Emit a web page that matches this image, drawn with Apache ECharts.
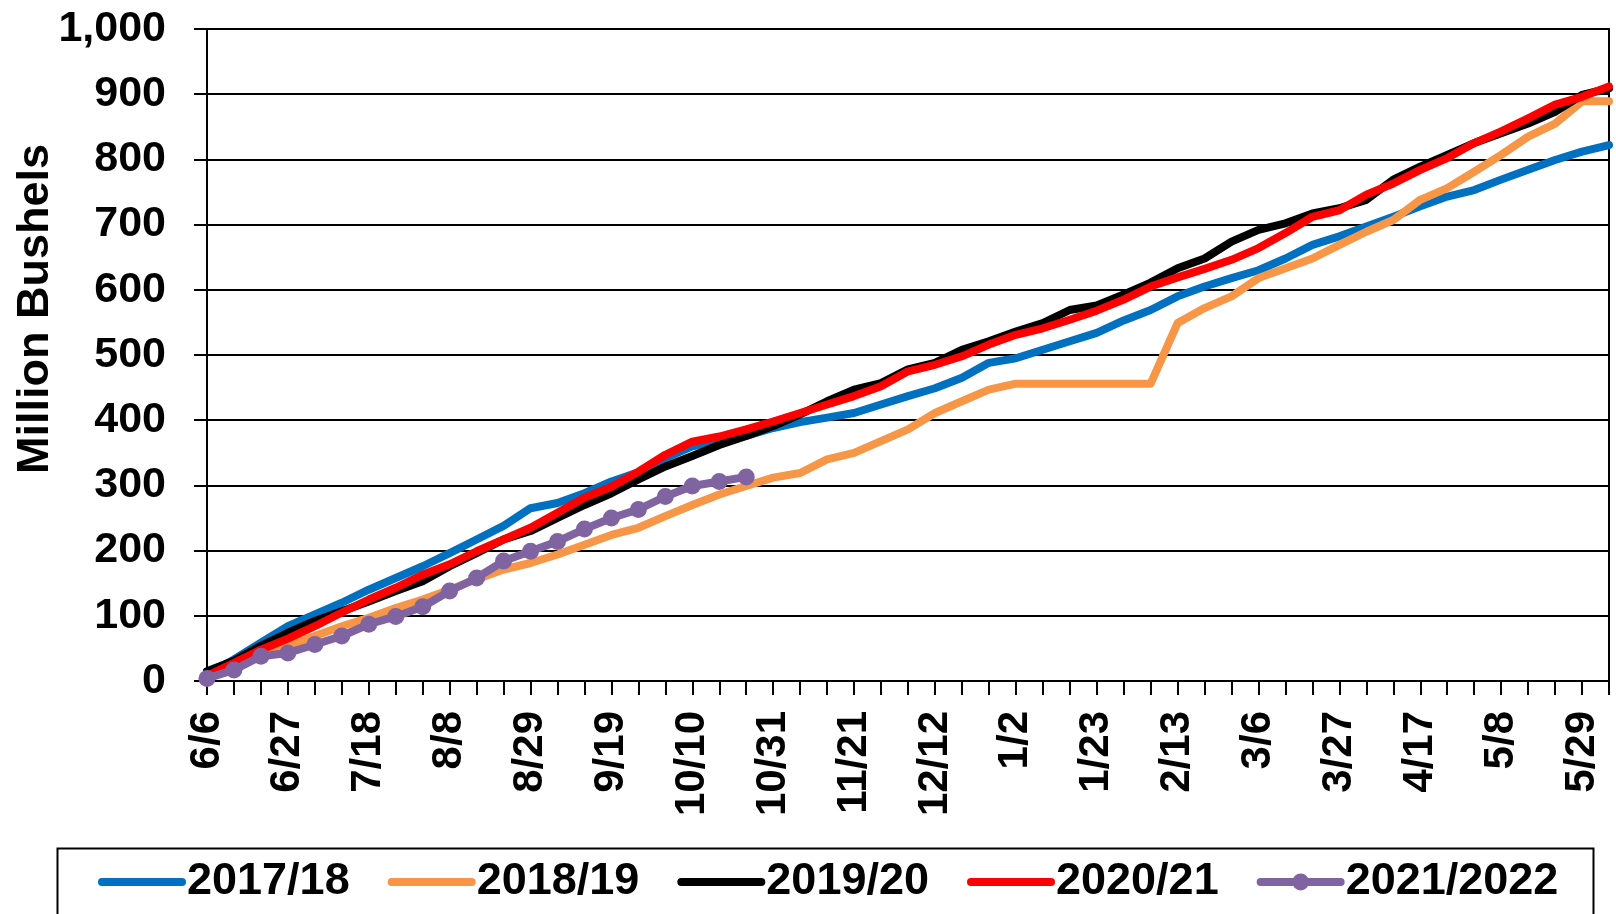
<!DOCTYPE html>
<html>
<head>
<meta charset="utf-8">
<script src="https://cdn.jsdelivr.net/npm/echarts@6/dist/echarts.min.js"></script>
<style>
  html, body { margin: 0; padding: 0; background: #fff; }
  #chart { width: 1616px; height: 914px; }
</style>
</head>
<body>
<div id="chart"></div>
<script>
const categories = ['6/6','6/13','6/20','6/27','7/4','7/11','7/18','7/25','8/1','8/8','8/15','8/22','8/29','9/5','9/12','9/19','9/26','10/3','10/10','10/17','10/24','10/31','11/7','11/14','11/21','11/28','12/5','12/12','12/19','12/26','1/2','1/9','1/16','1/23','1/30','2/6','2/13','2/20','2/27','3/6','3/13','3/20','3/27','4/3','4/10','4/17','4/24','5/1','5/8','5/15','5/22','5/29','6/5'];

const s2017 = [10,33,59,84,102,120,140,158,176,196,217,238,265,273,288,306,320,342,360,367,376,388,397,404,411,424,437,449,465,488,495,508,521,534,553,569,590,605,618,630,648,669,682,697,712,728,743,753,769,784,799,812,822];
const s2018 = [8,26,43,54,69,84,97,112,125,140,156,171,181,194,209,224,235,253,270,286,299,312,319,340,350,368,386,411,429,447,456,456,456,456,456,456,549,572,590,618,633,648,669,689,707,738,756,781,807,835,855,889,889];
const s2019 = [15,31,54,74,92,107,122,138,153,176,196,217,230,250,270,288,309,329,345,362,376,391,409,429,447,457,478,488,508,521,536,549,569,576,593,611,633,648,674,692,702,717,725,738,769,789,807,825,840,855,873,899,909];
const s2020 = [8,28,48,65,84,105,125,143,163,179,199,217,235,258,281,298,321,347,367,375,386,398,411,424,437,452,475,485,498,516,531,541,554,568,585,605,619,632,646,664,687,712,722,746,763,784,802,825,843,863,884,896,912];
const s2021 = [4,17,38,43,56,69,87,99,114,138,158,184,199,214,233,250,263,283,299,306,313];

const seriesNames = ['2017/18','2018/19','2019/20','2020/21','2021/2022'];
const seriesColors = ['#0070C0','#F79646','#000000','#FF0000','#8064A2'];
const seriesData = [s2017, s2018, s2019, s2020, s2021];

const FONT = 'Liberation Sans, Arial, sans-serif';

const chart = echarts.init(document.getElementById('chart'), null, { renderer: 'canvas' });

const series = seriesData.map((d, i) => ({
  name: seriesNames[i],
  type: 'line',
  data: d,
  color: seriesColors[i],
  showSymbol: i === 4,
  symbol: i === 4 ? 'circle' : 'none',
  symbolSize: 17,
  lineStyle: { width: 8, color: seriesColors[i], cap: 'round', join: 'round' },
  itemStyle: { color: seriesColors[i] },
  z: 2 + i,
  animation: false
}));

const legendData = seriesNames.map((n, i) => i === 4
  ? { name: n }
  : { name: n, itemStyle: { color: 'rgba(0,0,0,0)', opacity: 0, borderWidth: 0 } });

chart.setOption({
  animation: false,
  backgroundColor: '#ffffff',
  grid: {
    left: 207, right: 7, top: 29, bottom: 233,
    show: true, borderColor: '#000', borderWidth: 2, backgroundColor: 'transparent'
  },
  legend: {
    data: legendData,
    left: 93,
    top: 852,
    itemWidth: 80,
    itemHeight: 21,
    itemGap: 38,
    lineStyle: { width: 8, cap: 'round' },
    textStyle: { fontFamily: FONT, fontSize: 45, fontWeight: 'bold', color: '#000', lineHeight: 50 }
  },
  graphic: [{
    type: 'rect',
    left: 55, top: 846,
    shape: { width: 1536, height: 120 },
    style: { fill: 'none', stroke: '#000', lineWidth: 2 },
    silent: true
  }],
  xAxis: {
    type: 'category',
    data: categories,
    boundaryGap: false,
    axisLine: { show: true, lineStyle: { color: '#000', width: 2 } },
    axisTick: { show: true, interval: 0, length: 14, lineStyle: { color: '#000', width: 2 } },
    axisLabel: {
      interval: 2, rotate: 90, margin: 30,
      fontFamily: FONT, fontSize: 42, fontWeight: 'bold', color: '#000'
    },
    splitLine: { show: false }
  },
  yAxis: {
    type: 'value',
    min: 0, max: 1000, interval: 100,
    name: 'Million Bushels',
    nameLocation: 'middle',
    nameGap: 149,
    nameMoveOverlap: false,
    nameRotate: 90,
    nameTextStyle: { fontFamily: FONT, fontSize: 45, fontWeight: 'bold', color: '#000', padding: [0, 0, 0, 92] },
    axisLine: { show: true, lineStyle: { color: '#000', width: 2 } },
    axisTick: { show: true, length: 13, lineStyle: { color: '#000', width: 2 } },
    axisLabel: {
      margin: 41,
      fontFamily: FONT, fontSize: 43, fontWeight: 'bold', color: '#000',
      formatter: v => v.toLocaleString('en-US')
    },
    splitLine: { show: true, lineStyle: { color: '#000', width: 2 } }
  },
  series: series
});
</script>
</body>
</html>
